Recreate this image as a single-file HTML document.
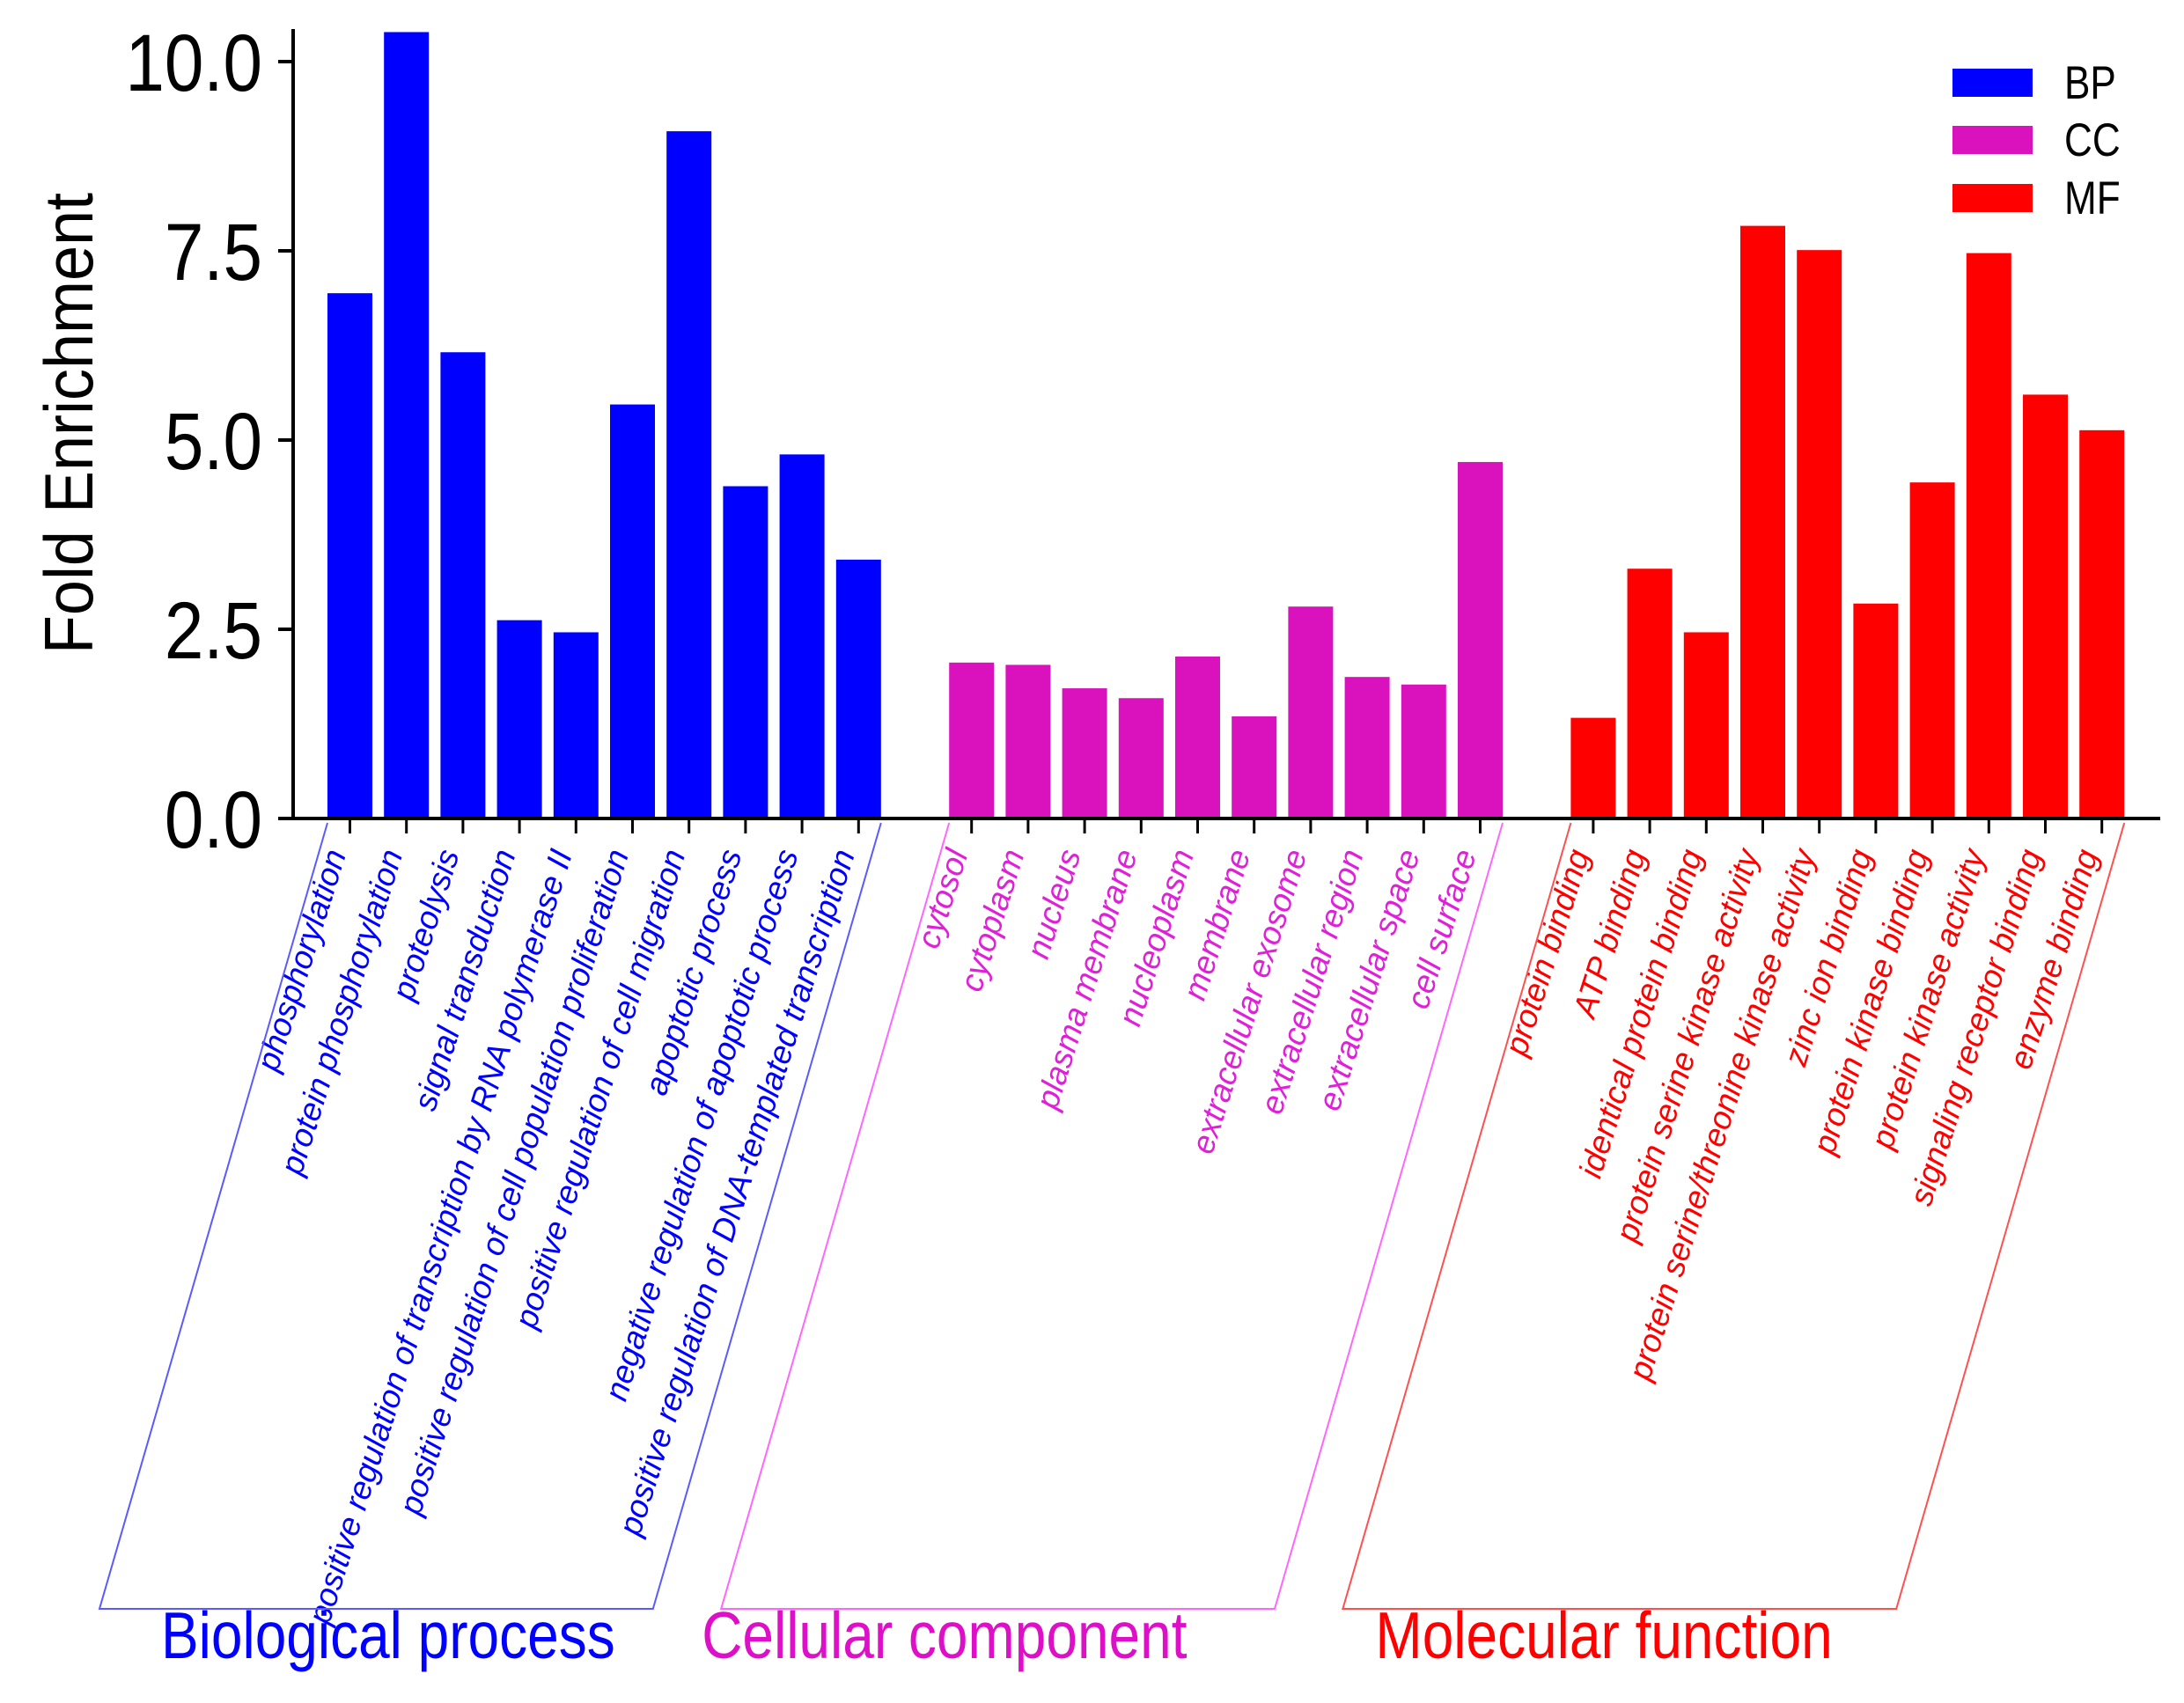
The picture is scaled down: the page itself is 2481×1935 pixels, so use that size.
<!DOCTYPE html>
<html><head><meta charset="utf-8"><style>
html,body{margin:0;padding:0;background:#fff;}
svg{display:block;font-family:"Liberation Sans",Arial,sans-serif;}
</style></head><body>
<svg id="chart" width="2481" height="1935" viewBox="0 0 2481 1935" xmlns="http://www.w3.org/2000/svg">
<g id="bars"></g>
<g id="axes"></g>
<g id="labels"></g>
<text x="0" y="0" transform="translate(105,481) rotate(-90) scale(1,1.08)" text-anchor="middle" font-size="72" fill="#000">Fold Enrichment</text>
<g>
<rect x="2218" y="78" width="91" height="32" fill="#0000ff"/>
<text x="0" y="0" transform="translate(2345,112) scale(1.05,1.25)" font-size="42">BP</text>
<rect x="2218" y="143" width="91" height="32" fill="#d912be"/>
<text x="0" y="0" transform="translate(2345,177) scale(1.05,1.25)" font-size="42">CC</text>
<rect x="2218" y="209" width="91" height="32" fill="#ff0000"/>
<text x="0" y="0" transform="translate(2345,243) scale(1.05,1.25)" font-size="42">MF</text>
</g>
</svg>
<script>
const bpTerms = ["phosphorylation","protein phosphorylation","proteolysis","signal transduction","positive regulation of transcription by RNA polymerase II","positive regulation of cell population proliferation","positive regulation of cell migration","apoptotic process","negative regulation of apoptotic process","positive regulation of DNA-templated transcription"];
const bpValues = [6.94,10.39,6.16,2.62,2.46,5.47,9.08,4.39,4.81,3.42];
const ccTerms = ["cytosol","cytoplasm","nucleus","plasma membrane","nucleoplasm","membrane","extracellular exosome","extracellular region","extracellular space","cell surface"];
const ccValues = [2.06,2.03,1.72,1.59,2.14,1.35,2.80,1.87,1.77,4.71];
const mfTerms = ["protein binding","ATP binding","identical protein binding","protein serine kinase activity","protein serine/threonine kinase activity","zinc ion binding","protein kinase binding","protein kinase activity","signaling receptor binding","enzyme binding"];
const mfValues = [1.33,3.30,2.46,7.83,7.51,2.84,4.44,7.47,5.60,5.13];
const yTicks = [0,2.5,5,7.5,10];
const yTickLabels = ["0.0","2.5","5.0","7.5","10.0"];
const groupNames = ["Biological process","Cellular component","Molecular function"];

const NS="http://www.w3.org/2000/svg";
function mk(tag,attrs,parent){const e=document.createElementNS(NS,tag);for(const k in attrs)e.setAttribute(k,attrs[k]);parent.appendChild(e);return e;}
const y0=930, unit=86.0, x0=372, pitch=64.2, bw=51;
const yScale=v=>y0-v*unit;
const xSlot=k=>x0+k*pitch;
const titleOffset=[-189,-281,-222];
const groups=[
 {terms:bpTerms,vals:bpValues,bar:"#0000ff",txt:"#0000ff",line:"#5a5aff",title:"#0000ff",key:"bp"},
 {terms:ccTerms,vals:ccValues,bar:"#d912be",txt:"#e020d8",line:"#ff66ff",title:"#dd10c8",key:"cc"},
 {terms:mfTerms,vals:mfValues,bar:"#ff0000",txt:"#ff0000",line:"#ff5050",title:"#ff0000",key:"mf"}];
const gb=document.getElementById('bars'), ga=document.getElementById('axes'), gl=document.getElementById('labels');
groups.forEach((g,gi)=>{
  const start=gi*(g.terms.length+1);
  g.vals.forEach((v,i)=>{
    const x=xSlot(start+i);
    const r=mk('rect',{x:x,y:yScale(v),width:bw,height:y0-yScale(v),fill:g.bar},gb);
    
    
    const t=mk('line',{x1:x+bw/2,x2:x+bw/2,y1:y0,y2:947,stroke:'#000','stroke-width':3},ga);
    
    
    const lab=mk('text',{x:0,y:0,transform:`translate(${x+bw/2-4},970) rotate(-72.5)`,'text-anchor':'end','font-size':37,'font-style':'italic',fill:g.txt},gl);
    lab.textContent=g.terms[i];
    
    
  });
  const L=xSlot(start), R=xSlot(start+g.terms.length-1)+bw, shift=259, yb=1828, yt=935;
  const p=mk('polyline',{points:`${L},${yt} ${L-shift},${yb} ${R-shift},${yb} ${R},${yt}`,fill:'none',stroke:g.line,'stroke-width':2},gl);
  
  
  const tt=mk('text',{x:0,y:0,transform:`translate(${L+titleOffset[gi]},1884) scale(1,1.18)`,'text-anchor':'start','font-size':64,fill:g.title},gl);
  tt.textContent=groupNames[gi];
  
  
});
const ya=mk('line',{x1:333,x2:333,y1:33,y2:931,stroke:'#000','stroke-width':4},ga);


const xa=mk('line',{x1:316,x2:2454,y1:930,y2:930,stroke:'#000','stroke-width':4},ga);


yTicks.forEach((v,i)=>{
  const t=mk('line',{x1:316,x2:333,y1:yScale(v),y2:yScale(v),stroke:'#000','stroke-width':4},ga);
  
  
  const l=mk('text',{x:0,y:0,transform:`translate(298,${yScale(v)+33}) scale(1,1.15)`,'text-anchor':'end','font-size':80,fill:'#000'},ga);
  l.textContent=yTickLabels[i];
  
  
});
</script>
</body></html>
